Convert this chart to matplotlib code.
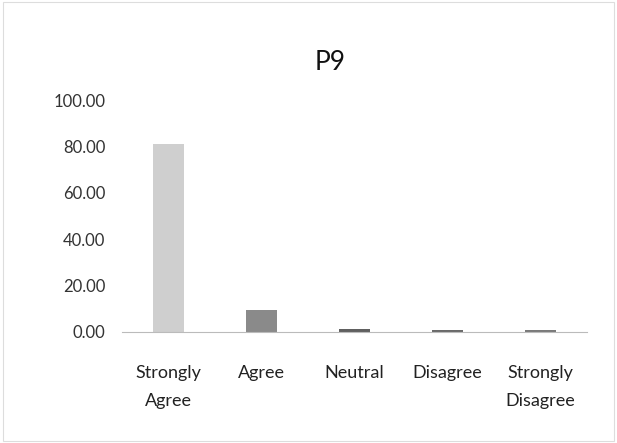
import matplotlib
matplotlib.use("Agg")
import matplotlib.pyplot as plt

categories = ["Strongly\nAgree", "Agree", "Neutral", "Disagree", "Strongly\nDisagree"]
values = [81.0, 9.5, 1.5, 1.0, 0.7]
bar_colors = ["#cfcfcf", "#8a8a8a", "#606060", "#6a6a6a", "#7a7a7a"]
yticks = [0, 20, 40, 60, 80, 100]

plt.rcParams['font.family'] = ['Lato', 'DejaVu Sans']

fig = plt.figure(figsize=(6.17, 4.43), dpi=100)
ax = fig.add_axes([0.198, 0.2506, 0.753, 0.5234])
x = list(range(len(categories)))
ax.bar(x, values, width=0.33, color=bar_colors, edgecolor="none")
ax.set_ylim(0, 100)
ax.set_xlim(-0.5, len(categories) - 0.5)
ax.set_yticks(yticks)
ax.set_yticklabels([f"{v:.2f}" for v in yticks], fontsize=12, color="#333333")
ax.set_xticks(x)
ax.set_xticklabels(categories, fontsize=13, color="#222222", linespacing=1.9)
ax.tick_params(axis="y", length=0, pad=12)
ax.tick_params(axis="x", length=0, pad=24)
for s in ["top", "right", "left"]:
    ax.spines[s].set_visible(False)
ax.spines["bottom"].set_color("#bbbbbb")
ax.spines["bottom"].set_linewidth(0.8)
fig.text(0.535, 0.86, "P9", ha="center", va="center", fontsize=19, color="#111111")

border = plt.Rectangle((0.005, 0.005), 0.99, 0.99, transform=fig.transFigure,
                       fill=False, edgecolor="#dddddd", linewidth=0.8)
fig.patches.append(border)

fig.savefig("out.png", dpi=100)
